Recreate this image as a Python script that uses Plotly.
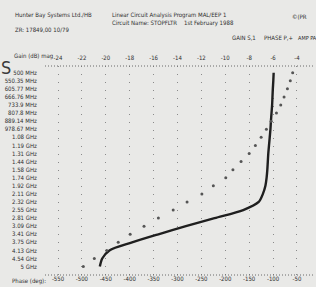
import plotly.graph_objects as go

# ---- data ----
freq_labels = ["500 MHz", "550.35 MHz", "605.77 MHz", "666.76 MHz", "733.9 MHz",
               "807.8 MHz", "889.14 MHz", "978.67 MHz", "1.08 GHz", "1.19 GHz",
               "1.31 GHz", "1.44 GHz", "1.58 GHz", "1.74 GHz", "1.92 GHz",
               "2.11 GHz", "2.32 GHz", "2.55 GHz", "2.81 GHz", "3.09 GHz",
               "3.41 GHz", "3.75 GHz", "4.13 GHz", "4.54 GHz", "5 GHz"]
gain_db = [-5.95, -5.98, -6.02, -6.05, -6.08, -6.13, -6.18, -6.22, -6.28, -6.34,
           -6.40, -6.44, -6.48, -6.54, -6.64, -6.85, -7.2, -8.5, -10.9, -13.3,
           -15.6, -17.8, -19.7, -20.3, -20.5]
phase_deg = [-59, -64, -70, -77, -84, -93, -104, -114, -125, -137,
             -150, -167, -184, -199, -225, -249, -280, -309, -340, -370,
             -399, -424, -448, -474, -497]
gain_ticks = [-24, -22, -20, -18, -16, -14, -12, -10, -8, -6, -4]
phase_ticks = [-550, -500, -450, -400, -350, -300, -250, -200, -150, -100, -50]

FONT = "Liberation Sans Narrow, DejaVu Sans Condensed, Arial Narrow, sans-serif"
INK = "#2e2e2e"
BG = "#e9e9e7"

fig = go.Figure()
fig.add_trace(go.Scatter(x=gain_db, y=freq_labels, mode="lines",
                         line=dict(color="#1f1f1f", width=2.4, shape="spline",
                                   smoothing=0.8),
                         xaxis="x", yaxis="y", showlegend=False))
fig.add_trace(go.Scatter(x=phase_deg, y=freq_labels, mode="markers",
                         marker=dict(color="#555555", size=3),
                         xaxis="x2", yaxis="y", showlegend=False))

tickfont = dict(family=FONT, size=6, color=INK)
fig.update_layout(
    width=316, height=287,
    margin=dict(l=45, r=1, t=66, b=12, autoexpand=False),
    paper_bgcolor=BG, plot_bgcolor=BG,
    font=dict(family=FONT, size=6, color=INK),
    xaxis=dict(side="top", range=[-25.09, -2.49], tickvals=gain_ticks,
               ticktext=[str(v) for v in gain_ticks], tickfont=tickfont,
               showgrid=True, gridcolor="#8a8a8a", griddash="1px,7px", gridwidth=1,
               zeroline=False, showline=False, ticks="outside", ticklen=3,
               tickcolor=BG, automargin=False),
    xaxis2=dict(overlaying="x", side="bottom", anchor="y", range=[-577.2, -12.3],
                tickvals=phase_ticks, ticktext=[str(v) for v in phase_ticks],
                tickfont=tickfont, showgrid=False, zeroline=False, showline=False,
                ticks="", ticklabelstandoff=-1, automargin=False),
    yaxis=dict(type="category", categoryarray=freq_labels, range=[25.04, -0.83],
               tickfont=tickfont, showgrid=False, zeroline=False, showline=False,
               ticks="outside", ticklen=6, tickcolor=BG, automargin=False),
)

# dotted frame lines (top and bottom axis rules)
for yy in (0, 1):
    fig.add_shape(type="line", xref="paper", yref="paper", x0=0, x1=1, y0=yy, y1=yy,
                  line=dict(color="#6a6a6a", width=1, dash="1px,2px"))

def txt(s, x, y, size=6, anchor="left", color=INK, pad=1):
    fig.add_annotation(text=s, x=x, y=y, xref="paper", yref="paper", showarrow=False,
                       xanchor=anchor, yanchor="middle", borderpad=pad,
                       font=dict(family=FONT, size=size, color=color))

# helpers converting pixel positions on the page to paper fractions
W, H, L, T, B = 316, 287, 45, 66, 12
pw, ph = W - L - 1, H - T - B
def px(x):
    return (x - L) / pw
def py(y):
    return (H - B - y) / ph

txt("Hunter Bay Systems Ltd./HB", px(13), py(15))
txt("ZR: 17849,00 10/79", px(13), py(29))
txt("Linear Circuit Analysis Program MAL/EEP 1", px(110), py(15))
txt("Circuit Name: STOPFLTR    1st February 1988", px(110), py(23))
txt("©(PR", px(290), py(16))
txt("GAIN S,1", px(230), py(38))
txt("PHASE P,+", px(262), py(38))
txt("AMP PA", px(296), py(38), size=5.5)
txt("Gain (dB) mag", px(12), py(56))
txt("Phase (deg):", px(10), py(281))
txt("S", px(0), py(67), size=18, anchor="left", color="#3a3a3a", pad=0)

fig.write_html("out.html", config={"displayModeBar": False},
               post_script="document.body.style.margin='0';document.body.style.overflow='hidden';")
